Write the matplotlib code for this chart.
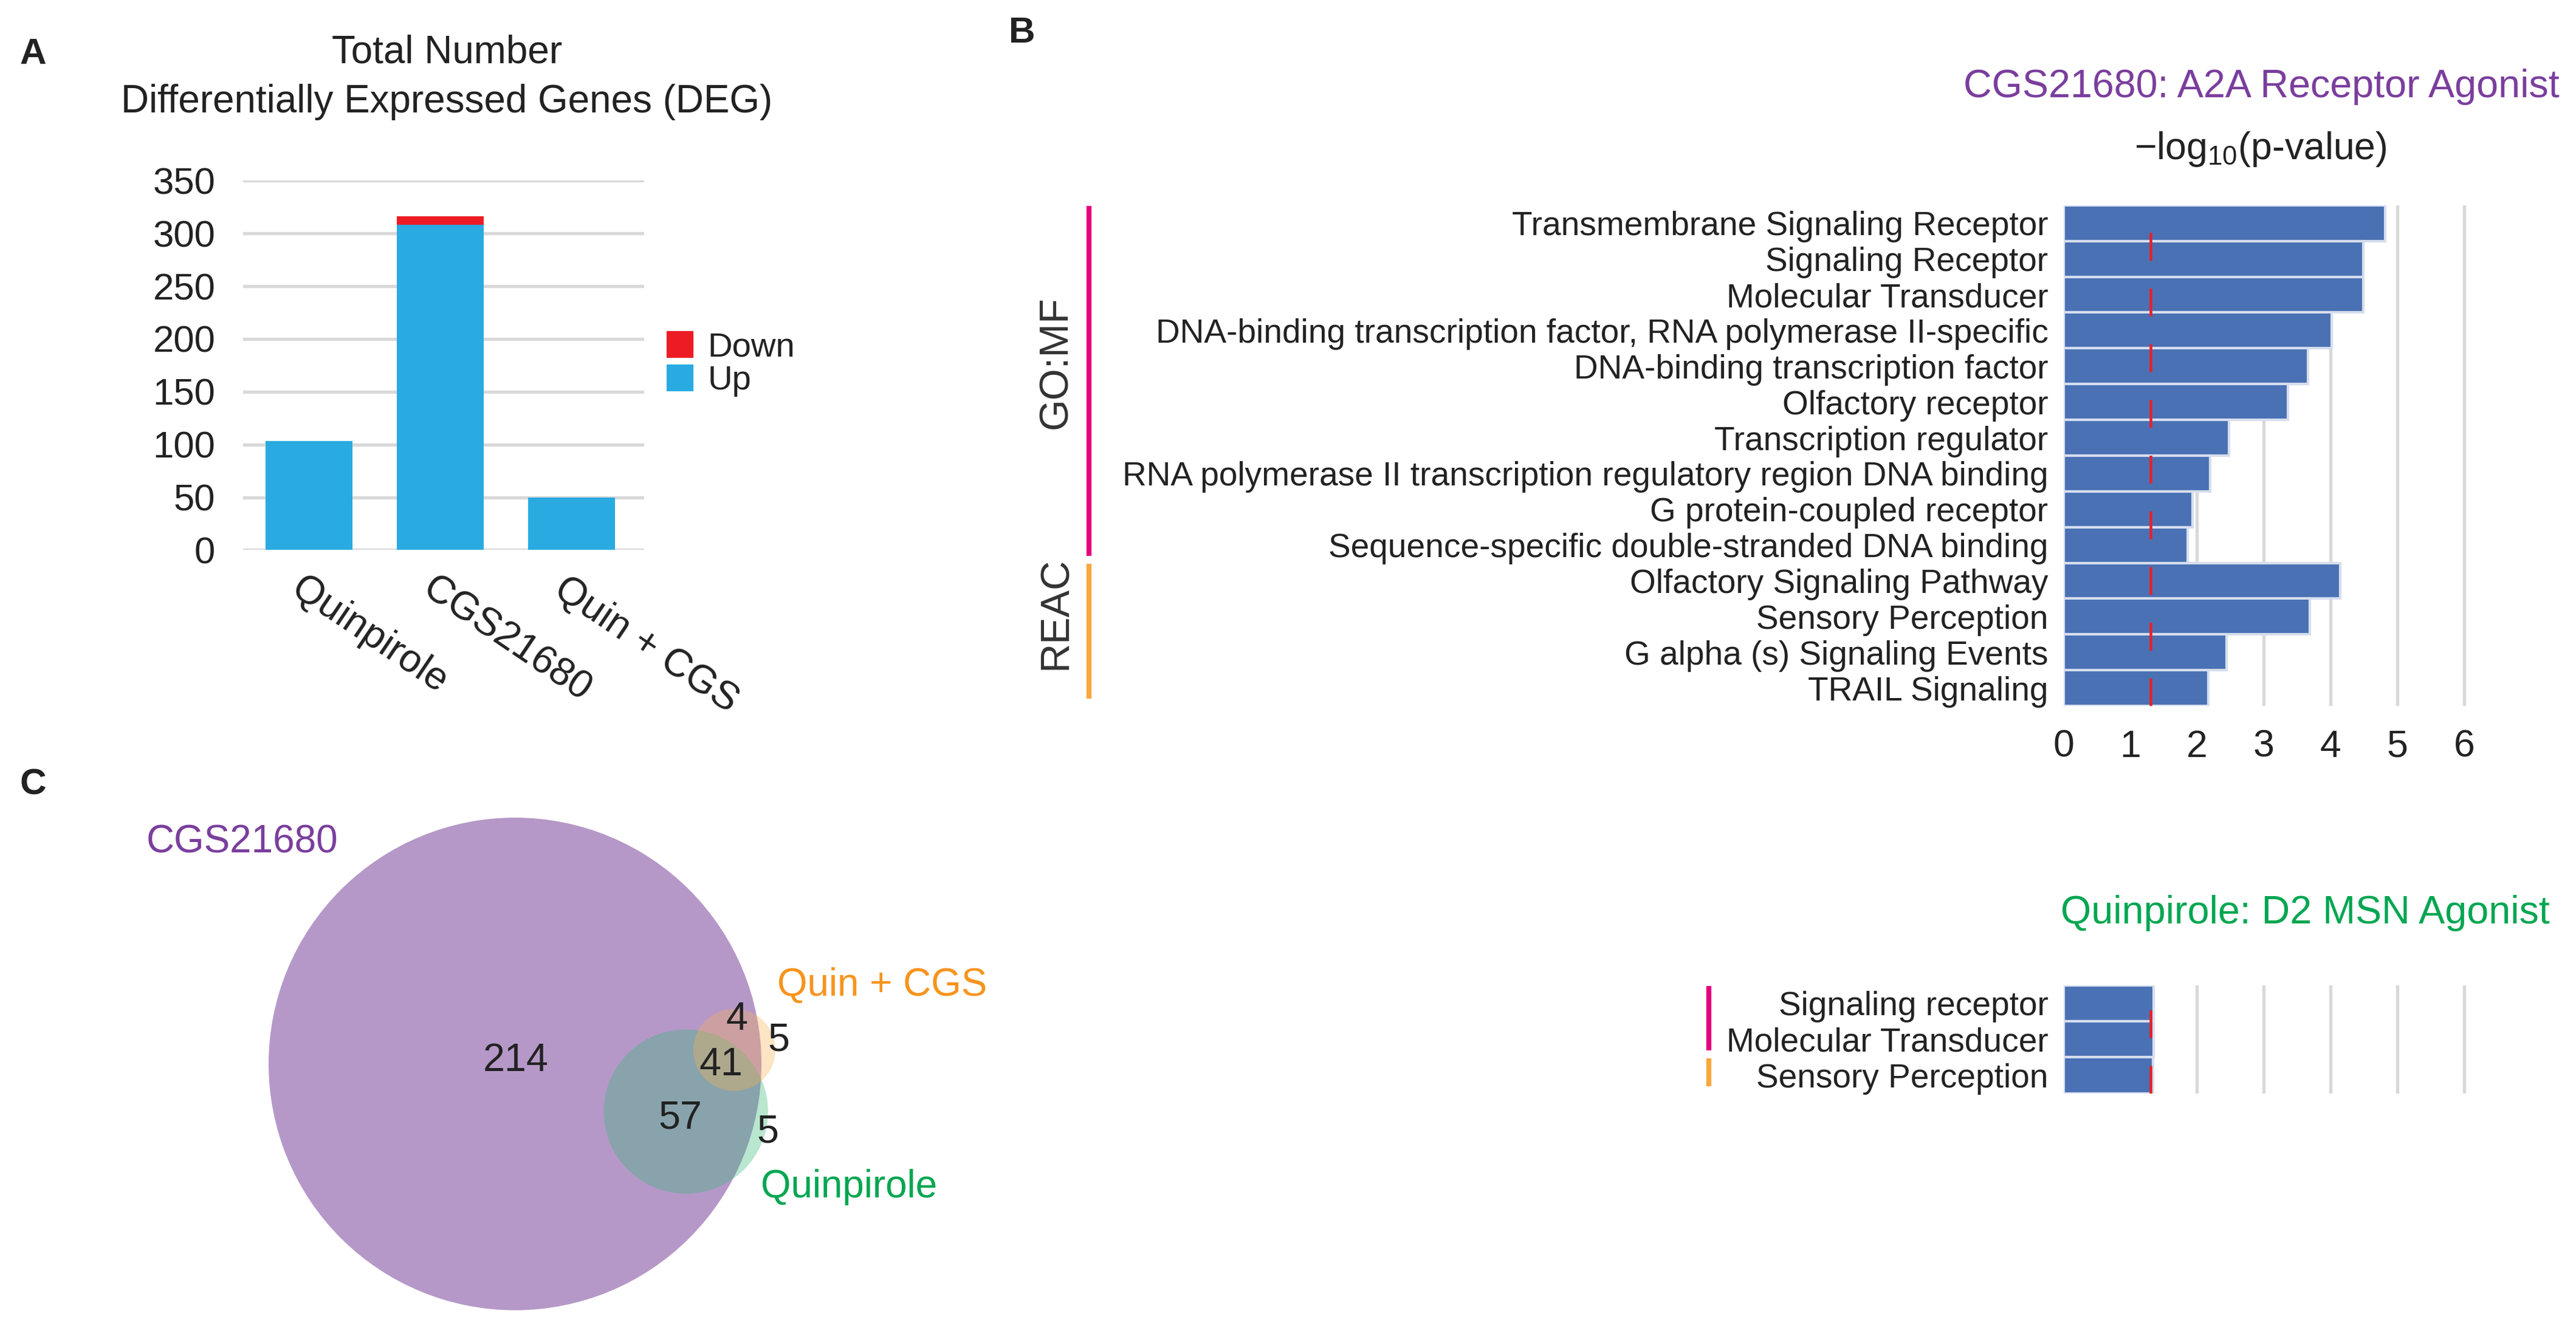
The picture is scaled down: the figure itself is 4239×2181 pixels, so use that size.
import numpy as np
import matplotlib
matplotlib.use("Agg")
import matplotlib.pyplot as plt
import matplotlib.transforms as mtransforms
from matplotlib.patches import Patch, Circle

plt.rcParams['font.family'] = ['Liberation Sans', 'DejaVu Sans']
plt.rcParams['mathtext.fontset'] = 'custom'
plt.rcParams['mathtext.rm'] = 'Liberation Sans'
plt.rcParams['mathtext.it'] = 'Liberation Sans:italic'
plt.rcParams['text.color'] = '#222222'

# Panel A data: DEG counts
conditions = ['Quinpirole', 'CGS21680', 'Quin + CGS']
up_counts = [103, 308, 50]
down_counts = [0, 8, 0]

# Panel B data: enrichment for CGS21680
cgs_terms = ['Transmembrane Signaling Receptor', 'Signaling Receptor', 'Molecular Transducer',
             'DNA-binding transcription factor, RNA polymerase II-specific',
             'DNA-binding transcription factor', 'Olfactory receptor', 'Transcription regulator',
             'RNA polymerase II transcription regulatory region DNA binding',
             'G protein-coupled receptor', 'Sequence-specific double-stranded DNA binding',
             'Olfactory Signaling Pathway', 'Sensory Perception',
             'G alpha (s) Signaling Events', 'TRAIL Signaling']
cgs_scores = [4.82, 4.49, 4.49, 4.02, 3.66, 3.36, 2.48, 2.20, 1.93, 1.86, 4.14, 3.69, 2.44, 2.17]
cgs_sources = ['GO:MF'] * 10 + ['REAC'] * 4

# Panel B data: enrichment for Quinpirole
quin_terms = ['Signaling receptor', 'Molecular Transducer', 'Sensory Perception']
quin_scores = [1.35, 1.35, 1.34]
quin_sources = ['GO:MF', 'GO:MF', 'REAC']

threshold = -np.log10(0.05)

# Panel C data: Venn region counts
venn_counts = [214, 57, 41, 4, 5, 5]

# layout helpers (reference measured on a 1568 x 807 grid)
W, H = 1568.0, 807.0
def fx(px):
    return px / W
def fy(py):
    return 1 - py / H

fig = plt.figure(figsize=(4239 / 300, 2181 / 300), dpi=300)

up_col = '#29abe2'
down_col = '#ed1c24'
grid_col = '#d9d9d9'
bar_col = '#4a71b4'
src_colors = {'GO:MF': '#e6007e', 'REAC': '#f9a73e'}

# ---------------- Panel A ----------------
axA = fig.add_axes([fx(148), fy(335), fx(392) - fx(148), fy(110) - fy(335)])
x = np.arange(len(conditions))
axA.bar(x, up_counts, width=0.66, color=up_col, zorder=3)
axA.bar(x, down_counts, bottom=up_counts, width=0.66, color=down_col, zorder=3)
axA.set_ylim(0, 350)
axA.set_xlim(-0.5, 2.55)
axA.set_yticks(np.arange(0, 351, 50))
axA.yaxis.grid(True, color=grid_col, lw=1.3, zorder=0)
axA.set_axisbelow(True)
for s in axA.spines.values():
    s.set_visible(False)
axA.tick_params(axis='y', length=0, pad=11, labelsize=14.8, labelcolor='#222222')
axA.tick_params(axis='x', length=0, pad=8)
axA.set_xticks(x)
axA.set_xticklabels(conditions, rotation=-34, ha='left', va='top',
                    rotation_mode='anchor', fontsize=15.5, color='#222222')
off = mtransforms.ScaledTranslation(-0.02, 0, fig.dpi_scale_trans)
for lab in axA.get_xticklabels():
    lab.set_transform(lab.get_transform() + off)
axA.legend(handles=[Patch(color=down_col, label='Down'), Patch(color=up_col, label='Up')],
           loc='center left', bbox_to_anchor=(fx(396), fy(222)), bbox_transform=fig.transFigure,
           frameon=False, fontsize=13.5, borderpad=0, handlelength=0.72, handleheight=0.72,
           handletextpad=0.45, labelspacing=0.05)
fig.text(fx(272), fy(32), 'Total Number', ha='center', va='center', fontsize=15.3)
fig.text(fx(272), fy(62), 'Differentially Expressed Genes (DEG)', ha='center', va='center', fontsize=15.3)


def enrichment(ax, terms, scores, sources, line_x, show_group_names):
    n = len(terms)
    y = np.arange(n)
    ax.barh(y, scores, height=1.0, color=bar_col, edgecolor='#d6deee', lw=1.0, zorder=3)
    ax.axvline(threshold, color='#e8202a', lw=1.1, dashes=(10, 10), zorder=4)
    ax.set_xlim(0, 6.05)
    ax.set_ylim(n - 0.5, -0.5)
    ax.set_xticks(range(7))
    ax.xaxis.grid(True, color=grid_col, lw=1.3, zorder=0)
    ax.set_axisbelow(True)
    for s in ax.spines.values():
        s.set_visible(False)
    ax.set_yticks(y)
    ax.set_yticklabels(terms, fontsize=13.2, color='#222222')
    ax.tick_params(axis='y', length=0, pad=6)
    ax.tick_params(axis='x', length=0, pad=9, labelsize=15, labelcolor='#222222')
    trans = mtransforms.blended_transform_factory(fig.transFigure, ax.transData)
    for src in ['GO:MF', 'REAC']:
        rows = [i for i, s in enumerate(sources) if s == src]
        lo, hi = min(rows), max(rows)
        ax.plot([fx(line_x), fx(line_x)], [lo - 0.48, hi + 0.3], color=src_colors[src],
                lw=2, transform=trans, clip_on=False, solid_capstyle='butt')
        if show_group_names:
            ax.text(fx(line_x - 20), (lo + hi) / 2 - 0.6, src, rotation=90, ha='center',
                    va='center', fontsize=16, transform=trans, color='#333333')


# ---------------- Panel B ----------------
axB = fig.add_axes([fx(1256), fy(430), fx(1502) - fx(1256), fy(125) - fy(430)])
enrichment(axB, cgs_terms, cgs_scores, cgs_sources, 663, True)
fig.text(fx(1558), fy(53), 'CGS21680: A2A Receptor Agonist', ha='right', va='center',
         fontsize=15.5, color='#7a3e9d')
fig.text(fx(1376), fy(91), r'$-$log$_{10}$(p-value)', ha='center', va='center', fontsize=15)

axB2 = fig.add_axes([fx(1256), fy(666), fx(1502) - fx(1256), fy(600) - fy(666)])
enrichment(axB2, quin_terms, quin_scores, quin_sources, 1040, False)
axB2.set_xticklabels([])
fig.text(fx(1552), fy(556), 'Quinpirole: D2 MSN Agonist', ha='right', va='center',
         fontsize=15.5, color='#00a651')

# ---------------- Panel C ----------------
axC = fig.add_axes([0, fy(807), fx(700), fy(470) - fy(807)])
axC.set_xlim(0, 700)
axC.set_ylim(807, 470)
axC.axis('off')
axC.add_patch(Circle((313.5, 648), 150, color='#b598c8', lw=0, zorder=1))
axC.add_patch(Circle((417.5, 677), 50, color='#34b876', alpha=0.35, lw=0, zorder=2))
axC.add_patch(Circle((447, 639.5), 25, color='#f9b254', alpha=0.34, lw=0, zorder=3))
count_pos = [(314, 646), (414, 681), (439, 648.5), (448.5, 621), (474, 633.5), (467.5, 689.5)]
for (px, py), c in zip(count_pos, venn_counts):
    axC.text(px, py, str(c), ha='center', va='center', fontsize=15.5, zorder=5)
axC.text(89, 513, 'CGS21680', ha='left', va='center', fontsize=15.3, color='#7a3e9d')
axC.text(473, 600, 'Quin + CGS', ha='left', va='center', fontsize=15.3, color='#f7941d')
axC.text(463, 723, 'Quinpirole', ha='left', va='center', fontsize=15.3, color='#00a651')

# panel letters
for letter, px, py in [('A', 20, 33), ('B', 622, 20), ('C', 20, 478)]:
    fig.text(fx(px), fy(py), letter, ha='center', va='center', fontsize=14.5, fontweight='bold')

fig.savefig('out.png', dpi=300)
